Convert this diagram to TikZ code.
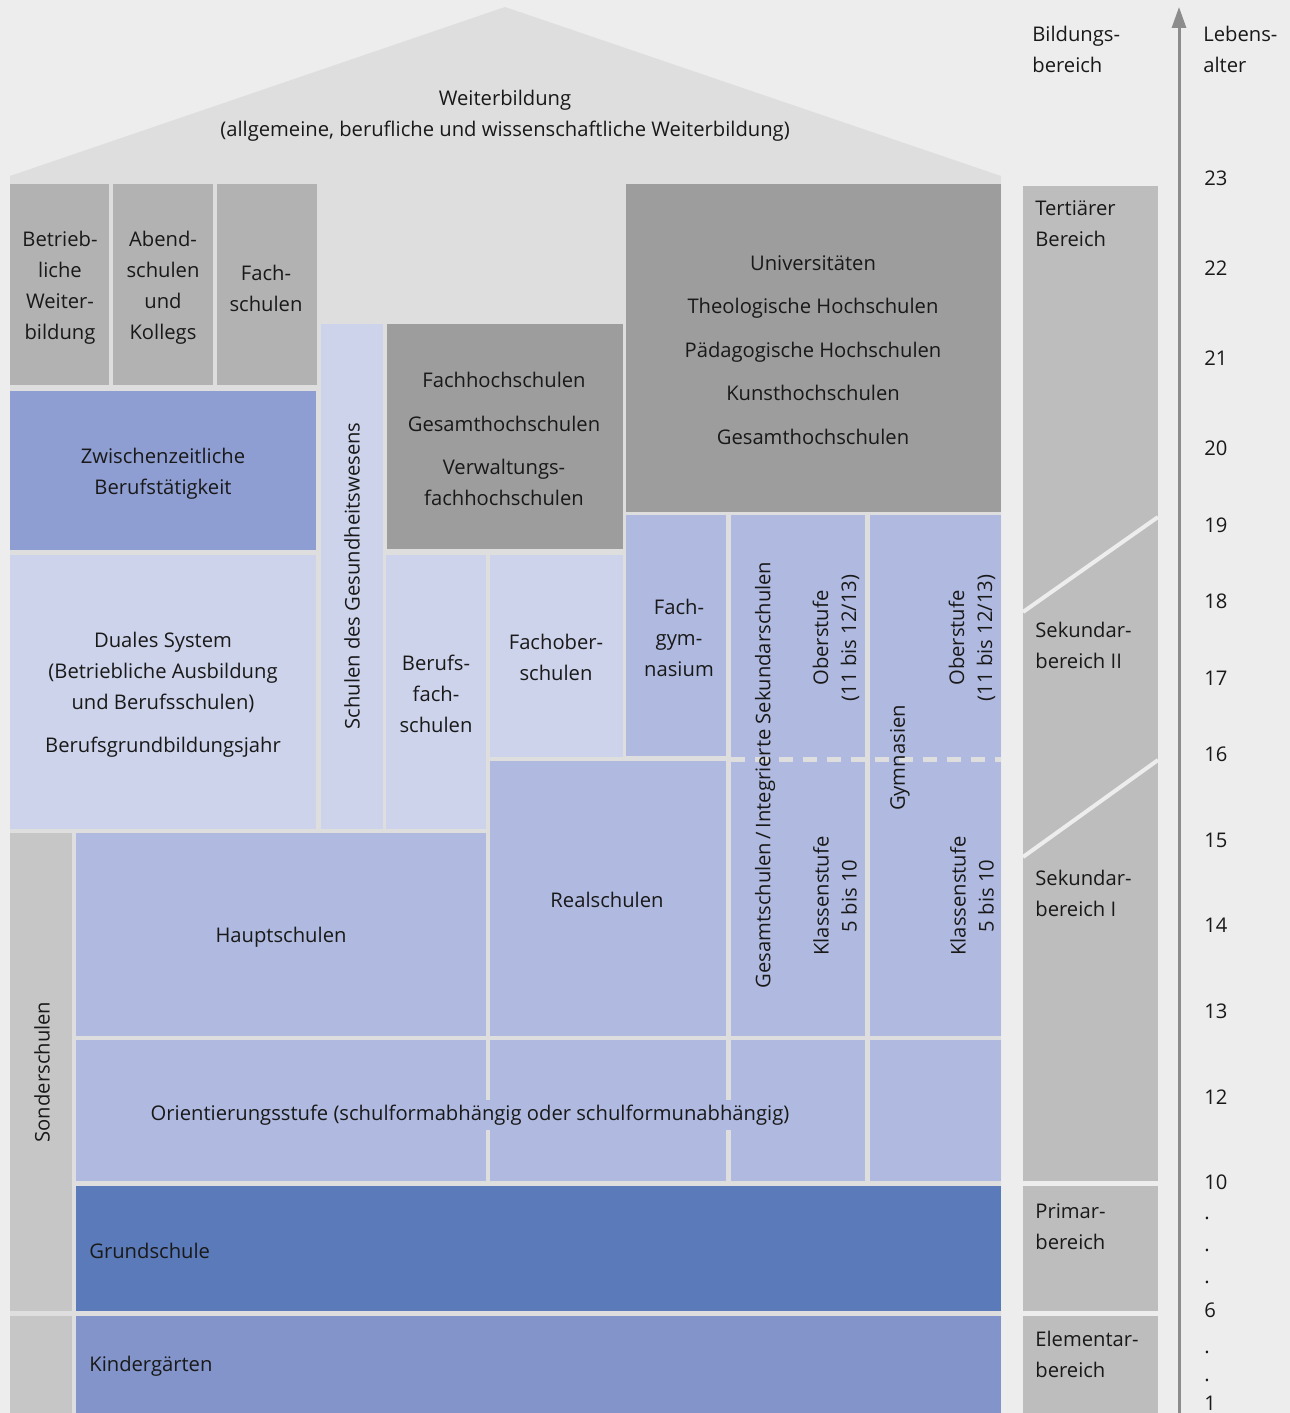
\documentclass[tikz,border=0pt]{standalone}
\usepackage{tikz}
\usepackage{fontspec}
\setmainfont{Open Sans}
\usetikzlibrary{arrows.meta}
\definecolor{pagegray}{RGB}{237,237,237}
\definecolor{housegray}{RGB}{222,222,222}
\definecolor{hochgray}{RGB}{157,157,157}
\definecolor{midgray}{RGB}{178,178,178}
\definecolor{sondergray}{RGB}{198,198,198}
\definecolor{bereichgray}{RGB}{189,189,189}
\definecolor{paleblue}{RGB}{205,211,235}
\definecolor{softblue}{RGB}{176,186,224}
\definecolor{midblue}{RGB}{142,158,210}
\definecolor{kitablue}{RGB}{130,148,201}
\definecolor{deepblue}{RGB}{91,122,185}
\definecolor{arrowgray}{RGB}{140,140,140}
\definecolor{textdark}{RGB}{25,25,25}

\begin{document}
\begin{tikzpicture}[x=0.02cm, y=-0.02cm,
    every node/.style={font=\fontsize{11.5}{17.6}\selectfont, text=textdark},
    lbl/.style={align=center, inner sep=0pt},
    turned/.style={lbl, rotate=90, font=\fontsize{11.5}{15.9}\selectfont},
    leftlbl/.style={anchor=west, align=left, inner sep=0pt}]
				% page and house
				\useasboundingbox (0,0) rectangle (1290,1413);
				\fill[pagegray] (0,0) rectangle (1290,1413);
				\fill[housegray] (10,176) -- (505,7) -- (1001,176) -- (1001,1413) -- (10,1413) -- cycle;
				
				% Weiterbildung blocks
				\fill[midgray] (10,184) rectangle (109,385);
				\fill[midgray] (113,184) rectangle (213,385);
				\fill[midgray] (217,184) rectangle (317,385);
				\fill[midblue] (10,391) rectangle (316,550);
				
				% Hochschulen
				\fill[hochgray] (626,184) rectangle (1001,512);
				\fill[hochgray] (387,324) rectangle (623,549);
				
				% Sekundarbereich II
				\fill[paleblue] (10,555) rectangle (316,829);
				\fill[paleblue] (321,324) rectangle (383,829);
				\fill[paleblue] (386,555) rectangle (486,829);
				\fill[paleblue] (490,555) rectangle (623,757);
				\fill[softblue] (626,515) rectangle (726,756);
				\fill[softblue] (731,515) rectangle (865,1036);
				\fill[softblue] (870,515) rectangle (1001,1036);
				
				% Sekundarbereich I
				\fill[softblue] (490,761) rectangle (726,1036);
				\fill[softblue] (76,833) rectangle (486,1036);
				\fill[softblue] (76,1040) rectangle (486,1181);
				\fill[softblue] (490,1040) rectangle (726,1181);
				\fill[softblue] (731,1040) rectangle (865,1181);
				\fill[softblue] (870,1040) rectangle (1001,1181);
				\draw[housegray, line width=0.1cm, dash pattern=on 0.28cm off 0.2cm] (731,759) -- (1001,759);
				
				% Primar- und Elementarbereich
				\fill[sondergray] (10,833) rectangle (72,1311);
				\fill[sondergray] (10,1316) rectangle (72,1413);
				\fill[deepblue] (76,1186) rectangle (1001,1311);
				\fill[kitablue] (76,1316) rectangle (1001,1413);
				
				% Bildungsbereich column
				\fill[bereichgray] (1023,186) rectangle (1158,1181);
				\fill[bereichgray] (1023,1186) rectangle (1158,1311);
				\fill[bereichgray] (1023,1316) rectangle (1158,1413);
				\draw[pagegray, line width=0.08cm] (1023,612) -- (1158,517);
				\draw[pagegray, line width=0.08cm] (1023,857) -- (1158,760);
				
				% labels in the house
				\node[lbl] (weiter) at (505,116) {Weiterbildung\\(allgemeine, berufliche und wissenschaftliche Weiterbildung)};
				\node[lbl] (betrieb) at (60,288) {Betrieb-\\liche\\Weiter-\\bildung};
				\node[lbl] (abend) at (163,288) {Abend-\\schulen\\und\\Kollegs};
				\node[lbl] (fachsch) at (266,288) {Fach-\\schulen};
				\node[lbl] (uni) at (813,350) {Universitäten\\[0.25cm]Theologische Hochschulen\\[0.25cm]Pädagogische Hochschulen\\[0.25cm]Kunsthochschulen\\[0.25cm]Gesamthochschulen};
				\node[lbl] (zwischen) at (163,474) {Zwischenzeitliche\\Berufstätigkeit};
				\node[lbl] (fh) at (504,439) {Fachhochschulen\\[0.25cm]Gesamthochschulen\\[0.25cm]Verwaltungs-\\fachhochschulen};
				\node[lbl] (duales) at (163,695) {Duales System\\(Betriebliche Ausbildung\\und Berufsschulen)\\[0.24cm]Berufsgrundbildungsjahr};
				\node[turned] (gesundh) at (352,576) {Schulen des Gesundheitswesens};
				\node[lbl] (berufsfach) at (436,694) {Berufs-\\fach-\\schulen};
				\node[lbl] (fachober) at (556,657) {Fachober-\\schulen};
				\node[lbl] (fachgym) at (679,638) {Fach-\\gym-\\nasium};
				\node[turned] (gesamt) at (765,775) {Gesamtschulen\,/\,Integrierte Sekundarschulen};
				\node[turned] (oberA) at (836,638) {Oberstufe\\(11 bis 12/13)};
				\node[turned] (gymn) at (900,758) {Gymnasien};
				\node[turned] (oberB) at (972,638) {Oberstufe\\(11 bis 12/13)};
				\node[turned] (klasseA) at (835,896) {Klassenstufe\\5 bis 10};
				\node[turned] (klasseB) at (972,896) {Klassenstufe\\5 bis 10};
				\node[lbl] (real) at (607,900) {Realschulen};
				\node[lbl] (haupt) at (281,937) {Hauptschulen};
				\node[turned] (sonder) at (42,1072) {Sonderschulen};
				\node[lbl, fill=softblue, inner xsep=0.1cm, inner ysep=0.1cm] (orient) at (470,1115) {Orientierungsstufe (schulformabhängig oder schulformunabhängig)};
				\node[leftlbl] (grund) at (89,1251) {Grundschule};
				\node[leftlbl] (kita) at (89,1366) {Kindergärten};
				
				% Bildungsbereich labels
				\node[leftlbl] (bildhead) at (1032,49) {Bildungs-\\bereich};
				\node[leftlbl] (tertiaer) at (1035,224) {Tertiärer\\Bereich};
				\node[leftlbl] (sekzwei) at (1035,645) {Sekundar-\\bereich II};
				\node[leftlbl] (sekeins) at (1035,893) {Sekundar-\\bereich I};
				\node[leftlbl] (primar) at (1035,1227) {Primar-\\bereich};
				\node[leftlbl] (elementar) at (1035,1354) {Elementar-\\bereich};
				
				% Lebensalter axis
				\coordinate (agefoot) at (1179,1413);
				\coordinate (agetip) at (1179,7);
				\draw[arrowgray, line width=0.06cm, -{Triangle[width=0.28cm, length=0.42cm]}] (agefoot) -- (agetip);
				\node[leftlbl] (agehead) at (1203,49) {Lebens-\\alter};
				\foreach \age/\ypos [count=\i] in {23/178, 22/268, 21/358, 20/448, 19/525, 18/601, 17/678, 16/754, 15/840, 14/925, 13/1011, 12/1097, 10/1182, ./1218, ./1250, ./1282, 6/1310, ./1352, ./1380, 1/1403}
					\node[leftlbl] (age\i) at (1204,\ypos) {\age};
			\end{tikzpicture}
\end{document}
